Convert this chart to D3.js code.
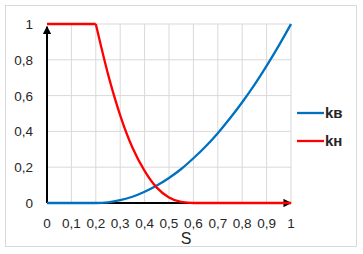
<!DOCTYPE html>
<html>
<head>
<meta charset="utf-8">
<script src="https://cdn.jsdelivr.net/npm/d3@7"></script>
<style>
  body { margin: 0; background: #fff; }
  svg text { font-family: "Liberation Sans", Arial, sans-serif; fill: #262626; }
</style>
</head>
<body>
<div id="main-vis"></div>
<script>
// saturation values
const sKv = [0, 0.1, 0.2, 0.25, 0.3, 0.35, 0.4, 0.45, 0.5, 0.55, 0.6, 0.65, 0.7, 0.75, 0.8, 0.85, 0.9, 0.95, 1]
const kv  = [0, 0, 0, 0.004, 0.016, 0.035, 0.063, 0.098, 0.14, 0.19, 0.25, 0.316, 0.39, 0.473, 0.563, 0.66, 0.766, 0.879, 1]

const sKn = [0, 0.1, 0.2, 0.25, 0.3, 0.35, 0.4, 0.45, 0.5, 0.55, 0.6, 0.7, 0.8, 0.9, 1]
const kn  = [1, 1, 1, 0.72, 0.49, 0.31, 0.18, 0.086, 0.031, 0.006, 0, 0, 0, 0, 0]

const xTicks = [0, 0.1, 0.2, 0.3, 0.4, 0.5, 0.6, 0.7, 0.8, 0.9, 1]
const yTicks = [0, 0.2, 0.4, 0.6, 0.8, 1]
const seriesNames = ['kв', 'kн']
const seriesColors = ['#0070C0', '#FF0000']

window.onload = setup

function setup () {
    const div = d3.select('#main-vis')
    const svg = d3.create('svg')
        .attr('width', 363)
        .attr('height', 254)

    // chart border
    svg.append('rect')
        .attr('x', 5.5).attr('y', 5.5)
        .attr('width', 351).attr('height', 241)
        .attr('fill', '#fff')
        .attr('stroke', '#d9d9d9')

    const x = d3.scaleLinear().domain([0, 1]).range([47, 291])
    const y = d3.scaleLinear().domain([0, 1]).range([203, 24])
    const fmt = d => String(d).replace('.', ',')

    // grid
    svg.append('g').selectAll('line')
        .data(xTicks.slice(1))
        .join('line')
            .attr('x1', d => x(d)).attr('x2', d => x(d))
            .attr('y1', y(0)).attr('y2', y(1))
            .attr('stroke', '#d9d9d9')
    svg.append('g').selectAll('line')
        .data(yTicks.slice(1))
        .join('line')
            .attr('x1', x(0)).attr('x2', x(1))
            .attr('y1', d => y(d)).attr('y2', d => y(d))
            .attr('stroke', '#d9d9d9')

    // tick labels
    svg.append('g').selectAll('text')
        .data(xTicks)
        .join('text')
            .attr('x', d => x(d))
            .attr('y', 228)
            .attr('text-anchor', 'middle')
            .attr('font-size', 13.5)
            .text(fmt)
    svg.append('g').selectAll('text')
        .data(yTicks)
        .join('text')
            .attr('x', 33)
            .attr('y', d => y(d) + 5)
            .attr('text-anchor', 'end')
            .attr('font-size', 13.5)
            .text(fmt)

    // arrow axes
    const defs = svg.append('defs')
    defs.append('marker')
        .attr('id', 'arr')
        .attr('viewBox', '0 0 10 10')
        .attr('refX', 9).attr('refY', 5)
        .attr('markerWidth', 4.2).attr('markerHeight', 4.2)
        .attr('markerUnits', 'strokeWidth')
        .attr('orient', 'auto')
        .append('path').attr('d', 'M0,0 L10,5 L0,10 Z').attr('fill', '#000')

    svg.append('line')
        .attr('x1', x(0)).attr('y1', y(0))
        .attr('x2', x(1)).attr('y2', y(0))
        .attr('stroke', '#000').attr('stroke-width', 2)
        .attr('marker-end', 'url(#arr)')
    svg.append('line')
        .attr('x1', x(0)).attr('y1', y(0))
        .attr('x2', x(0)).attr('y2', y(0.985))
        .attr('stroke', '#000').attr('stroke-width', 2)
        .attr('marker-end', 'url(#arr)')

    // curves
    const line = d3.line()
        .x(d => x(d[0]))
        .y(d => y(d[1]))
        .curve(d3.curveMonotoneX)

    const blue = sKv.map((s, i) => [s, kv[i]])
    const red = sKn.map((s, i) => [s, kn[i]])
    const corner = sKn.indexOf(0.2)

    svg.append('path')
        .attr('d', line(blue))
        .attr('fill', 'none')
        .attr('stroke', seriesColors[0])
        .attr('stroke-width', 2.3)

    // red: flat part and falling part, so the knee at 0.2 stays sharp
    svg.append('path')
        .attr('d', d3.line().x(d => x(d[0])).y(d => y(d[1]))(red.slice(0, corner + 1)))
        .attr('fill', 'none')
        .attr('stroke', seriesColors[1])
        .attr('stroke-width', 2.3)
    svg.append('path')
        .attr('d', line(red.slice(corner)))
        .attr('fill', 'none')
        .attr('stroke', seriesColors[1])
        .attr('stroke-width', 2.3)
        .attr('stroke-linejoin', 'round')

    // axis title
    svg.append('text')
        .attr('x', 186)
        .attr('y', 244)
        .attr('text-anchor', 'middle')
        .attr('font-size', 16)
        .text('S')

    // legend
    const leg = svg.append('g').selectAll('g')
        .data(seriesNames)
        .join('g')
            .attr('transform', (d, i) => `translate(297, ${113 + i * 28})`)
    leg.append('line')
        .attr('x1', 0).attr('x2', 27)
        .attr('stroke', (d, i) => seriesColors[i])
        .attr('stroke-width', 2.3)
    leg.append('text')
        .attr('x', 28)
        .attr('y', 5)
        .attr('font-size', 15)
        .attr('font-weight', 'bold')
        .text(d => d)

    div.node().appendChild(svg.node())
}
</script>
</body>
</html>
